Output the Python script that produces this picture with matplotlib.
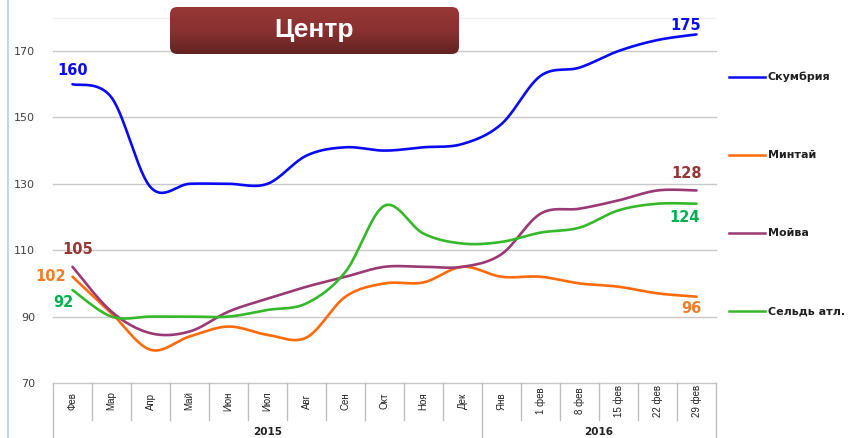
import numpy as np
import matplotlib
matplotlib.use("Agg")
import matplotlib.pyplot as plt
from matplotlib.patches import FancyBboxPatch
from matplotlib.lines import Line2D
from matplotlib.colors import LinearSegmentedColormap
import matplotlib.transforms as mtransforms

# ---------------- data ----------------
categories = ["Фев", "Мар", "Апр", "Май", "Июн", "Июл", "Авг", "Сен", "Окт", "Ноя", "Дек",
              "Янв", "1 фев", "8 фев", "15 фев", "22 фев", "29 фев"]
years = ["2015", "2016"]
year_sizes = [11, 6]

skumbria = [160, 156, 129, 130, 130, 130, 138.5, 141, 140, 141, 142, 148, 162.5, 165, 170, 173.3, 175]
mintai = [102, 91, 80, 84, 87, 84.5, 83.7, 96, 100, 100.3, 105, 102, 102, 100, 99, 97, 96]
moiva = [105, 91.5, 85, 85.5, 91.5, 95.4, 99, 102, 105, 105, 105, 108.8, 121, 122.5, 125, 128, 128]
seld = [98, 90, 90, 90, 90, 92, 94, 103.5, 123.4, 115, 112, 112.5, 115.3, 116.8, 122, 124, 124]

series_names = ["Скумбрия", "Минтай", "Мойва", "Сельдь атл."]
series_values = [skumbria, mintai, moiva, seld]
series_colors = ["#0A0AF5", "#FF6A0A", "#9A3A74", "#35B82A"]

yticks = [70, 90, 110, 130, 150, 170]
title_text = "Центр"

# data labels: (series index, point index, text, color, offset px)
data_labels = [
    (0, 0, "160", "#0A0AF5", (0, 14)),
    (0, 16, "175", "#0A0AF5", (-11, 9)),
    (2, 0, "105", "#953735", (5, 17)),
    (2, 16, "128", "#953735", (-10, 17)),
    (1, 0, "102", "#F07D2A", (-22, 0)),
    (1, 16, "96", "#F07D2A", (-5, -12)),
    (3, 0, "92", "#00B050", (-9, -12)),
    (3, 16, "124", "#00B050", (-12, -14)),
]

# ---------------- helpers ----------------
W, H = 865, 438


def smooth(xs, ys, n=30):
    xs = np.asarray(xs, float)
    ys = np.asarray(ys, float)
    px = np.concatenate([[xs[0]], xs, [xs[-1]]])
    py = np.concatenate([[ys[0]], ys, [ys[-1]]])
    ox, oy = [], []
    t = np.linspace(0, 1, n)
    for i in range(1, len(px) - 2):
        p0 = np.array([px[i], py[i]])
        p3 = np.array([px[i + 1], py[i + 1]])
        p1 = p0 + (np.array([px[i + 1], py[i + 1]]) - np.array([px[i - 1], py[i - 1]])) / 6
        p2 = p3 - (np.array([px[i + 2], py[i + 2]]) - np.array([px[i], py[i]])) / 6
        b = ((1 - t) ** 3)[:, None] * p0 + (3 * (1 - t) ** 2 * t)[:, None] * p1 \
            + (3 * (1 - t) * t ** 2)[:, None] * p2 + (t ** 3)[:, None] * p3
        ox.extend(b[:, 0]); oy.extend(b[:, 1])
    return np.array(ox), np.array(oy)


fig = plt.figure(figsize=(W / 100, H / 100), dpi=100)
fig.patch.set_facecolor("white")

ax_left, ax_right = 53, 716
ax_top, ax_bottom = 0, 383
ax = fig.add_axes([ax_left / W, 1 - ax_bottom / H, (ax_right - ax_left) / W, (ax_bottom - ax_top) / H])
n = len(categories)
ax.set_xlim(-0.5, n - 0.5)
ymin = 70
ymax = 170 + 51 / ((383 - 51) / 100)
ax.set_ylim(ymin, ymax)
for s in ax.spines.values():
    s.set_visible(False)
ax.set_xticks([])
ax.set_yticks(yticks)
ax.set_yticklabels([str(v) for v in yticks], fontsize=8, color="#404040")
ax.tick_params(axis="y", length=0, pad=13)
for v in yticks:
    ax.axhline(v, color="#C8C8C8", lw=1.0, zorder=1, clip_on=False)
ax.axhline(180, color="#F2F2F2", lw=1.0, zorder=1)

xs = np.arange(n)
for vals, col in zip(series_values, series_colors):
    sx, sy = smooth(xs, vals)
    ax.plot(sx, sy, color=col, lw=1.9, zorder=3, solid_capstyle="round", clip_on=False)

for si, pi, txt, col, off in data_labels:
    ax.annotate(txt, (xs[pi], series_values[si][pi]), xytext=off, textcoords="offset pixels",
                ha="center", va="center", fontsize=10.5, fontweight="bold", color=col,
                family="DejaVu Sans", zorder=5, annotation_clip=False)

# category axis (multi-level)
trans = mtransforms.blended_transform_factory(ax.transData, fig.transFigure)
def fy(py):
    return 1 - py / H

bounds = np.arange(n + 1) - 0.5
group_edges = [0] + list(np.cumsum(year_sizes))
for i, b in enumerate(bounds):
    y2 = 438 if i in group_edges else 420
    fig.add_artist(Line2D([b, b], [fy(383), fy(y2)], transform=trans, color="#BFBFBF", lw=1.0))
for x, lab in zip(xs, categories):
    fig.text(x, fy(401), lab, transform=trans, rotation=90, ha="center", va="center",
             fontsize=7, family=["Liberation Sans Narrow", "Liberation Sans"], color="#202020")
for gi, yr in enumerate(years):
    cx = (group_edges[gi] + group_edges[gi + 1]) / 2 - 0.5
    fig.text(cx, fy(432), yr, transform=trans, ha="center", va="center", fontsize=7.5,
             fontweight="bold", color="#202020")

# legend
leg_y = [77, 155, 233, 311]
for name, col, ly in zip(series_names, series_colors, leg_y):
    fig.add_artist(Line2D([729 / W, 765 / W], [fy(ly), fy(ly)], color=col, lw=1.8))
    fig.text(768 / W, fy(ly), name, ha="left", va="center", fontsize=8, fontweight="bold",
             color="#202020")

# left frame line
fig.add_artist(Line2D([8 / W, 8 / W], [0, 1], color="#BDD7EE", lw=1.5))

# title box with gradient
bx0, bx1, by0, by1 = 170, 459, 7, 54
tax = fig.add_axes([bx0 / W, 1 - by1 / H, (bx1 - bx0) / W, (by1 - by0) / H])
tax.set_xlim(0, 1); tax.set_ylim(0, 1); tax.axis("off")
grad = np.linspace(0, 1, 100)[:, None]
cmap = LinearSegmentedColormap.from_list("g", ["#612322", "#8A3131", "#963735"])
im = tax.imshow(grad, extent=[0, 1, 0, 1], origin="lower", cmap=cmap, aspect="auto")
box = FancyBboxPatch((0, 0), 1, 1, boxstyle="round,pad=0,rounding_size=0.025",
                     transform=tax.transAxes, facecolor="none", edgecolor="none",
                     mutation_aspect=(bx1 - bx0) / (by1 - by0))
tax.add_patch(box)
im.set_clip_path(box)
tax.text(0.5, 0.5, title_text, ha="center", va="center", color="white", fontsize=19,
         fontweight="bold", family="Liberation Sans")

fig.savefig("out.png", dpi=100)
